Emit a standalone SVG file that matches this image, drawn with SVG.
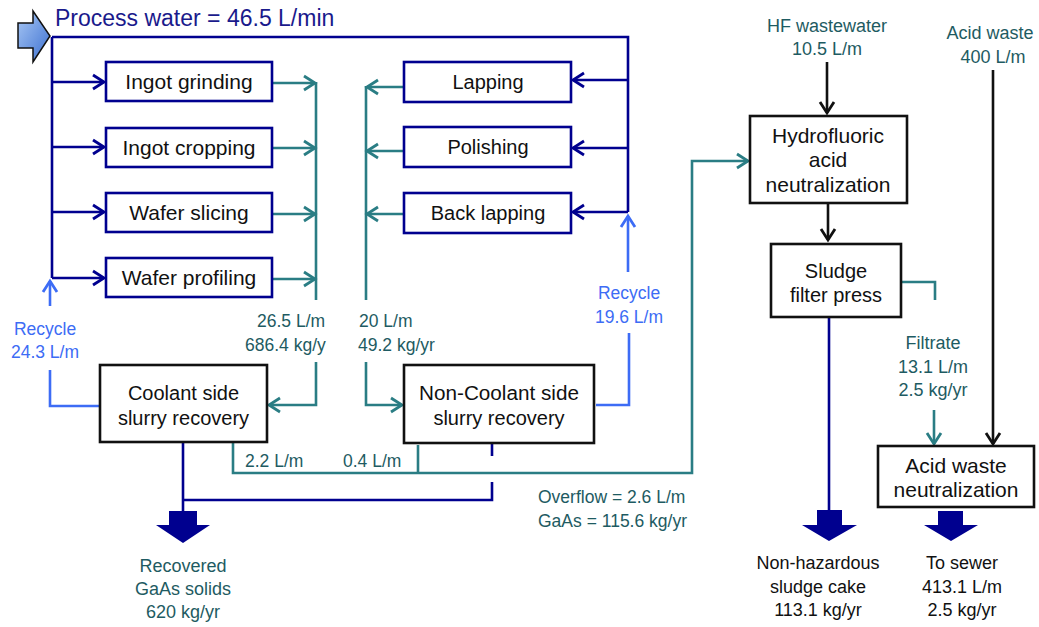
<svg xmlns="http://www.w3.org/2000/svg" width="1039" height="627" viewBox="0 0 1039 627">
<style>
text{font-family:"Liberation Sans",Arial,sans-serif}
.bt{font-size:20px;fill:#111;text-anchor:middle}
.bt2{font-size:21px;fill:#111;text-anchor:middle}
.lb{font-size:17.5px;fill:#1e5b62}
.lbc{font-size:18px;fill:#1e5b62;text-anchor:middle}
.lbb{font-size:17.5px;fill:#3d6cf5;text-anchor:middle}
.lbk{font-size:18px;fill:#111;text-anchor:middle}
.bn{fill:#fff;stroke:#00008f;stroke-width:2.6}
.bk{fill:#fff;stroke:#111;stroke-width:2.6}
.navy{fill:none;stroke:#00008f;stroke-width:2.6}
.teal{fill:none;stroke:#2a7d84;stroke-width:2.6}
.blue{fill:none;stroke:#3d6cf5;stroke-width:2.6}
.blk{fill:none;stroke:#111;stroke-width:2.6}
.big{fill:#00008f}
</style>
<defs>
<linearGradient id="g1" x1="0" y1="0" x2="1" y2="1">
<stop offset="0" stop-color="#a9c8f5"/><stop offset="1" stop-color="#3b6fd0"/>
</linearGradient>
<marker id="an" markerUnits="userSpaceOnUse" markerWidth="18" markerHeight="20" viewBox="-15 -10 18 20" refX="0" refY="0" orient="auto"><path d="M-11,-7 L0,0 L-11,7" fill="none" stroke="#00008f" stroke-width="2.8"/></marker>
<marker id="at" markerUnits="userSpaceOnUse" markerWidth="18" markerHeight="20" viewBox="-15 -10 18 20" refX="0" refY="0" orient="auto"><path d="M-11,-7 L0,0 L-11,7" fill="none" stroke="#2a7d84" stroke-width="2.8"/></marker>
<marker id="ab" markerUnits="userSpaceOnUse" markerWidth="18" markerHeight="20" viewBox="-15 -10 18 20" refX="0" refY="0" orient="auto"><path d="M-11,-7 L0,0 L-11,7" fill="none" stroke="#3d6cf5" stroke-width="2.8"/></marker>
<marker id="ak" markerUnits="userSpaceOnUse" markerWidth="18" markerHeight="20" viewBox="-15 -10 18 20" refX="0" refY="0" orient="auto"><path d="M-11,-7 L0,0 L-11,7" fill="none" stroke="#111" stroke-width="2.8"/></marker>
</defs>

<g id="process-water">
<polygon points="18,23 33,23 33,11 50,36 33,62 33,48 18,48" fill="url(#g1)" stroke="#111" stroke-width="1.5"/>
<text x="55" y="26" style="font-size:23px;fill:#1a1a8c">Process water = 46.5 L/min</text>
</g>

<g id="connectors">
<path class="navy" d="M52,37 H628 V212"/>
<path class="navy" d="M52,37 V278"/>
<path class="navy" d="M52,82 H104" marker-end="url(#an)"/>
<path class="navy" d="M52,147 H104" marker-end="url(#an)"/>
<path class="navy" d="M52,212 H104" marker-end="url(#an)"/>
<path class="navy" d="M52,278 H104" marker-end="url(#an)"/>
<path class="navy" d="M628,80 H573" marker-end="url(#an)"/>
<path class="navy" d="M628,148 H573" marker-end="url(#an)"/>
<path class="navy" d="M628,212 H573" marker-end="url(#an)"/>

<path class="teal" d="M272,83 H315" marker-end="url(#at)"/>
<path class="teal" d="M272,148 H315" marker-end="url(#at)"/>
<path class="teal" d="M272,214 H315" marker-end="url(#at)"/>
<path class="teal" d="M272,279 H315" marker-end="url(#at)"/>
<path class="teal" d="M316,82 V300"/>
<path class="teal" d="M316,362 V405 H269" marker-end="url(#at)"/>

<path class="teal" d="M404,87 H367" marker-end="url(#at)"/>
<path class="teal" d="M404,151 H367" marker-end="url(#at)"/>
<path class="teal" d="M404,214 H367" marker-end="url(#at)"/>
<path class="teal" d="M366,86 V300"/>
<path class="teal" d="M366,362 V405 H402" marker-end="url(#at)"/>

<path class="blue" d="M50,306 V281" marker-end="url(#ab)"/>
<path class="blue" d="M50,370 V406 H99"/>
<path class="blue" d="M628,272 V216" marker-end="url(#ab)"/>
<path class="blue" d="M629,333 V405 H596"/>

<path class="teal" d="M233,443 V473 H692 V161 H748" marker-end="url(#at)"/>
<path class="teal" d="M418,445 V473"/>

<path class="navy" d="M183,443 V511"/>
<path class="navy" d="M183,500 H492 V482"/>
<path class="navy" d="M492,443 V456"/>

<path class="blk" d="M827,62 V113" marker-end="url(#ak)"/>
<path class="blk" d="M828,203 V240" marker-end="url(#ak)"/>
<path class="blk" d="M993,70 V444" marker-end="url(#ak)"/>
<path class="teal" d="M902,282 H935 V300"/>
<path class="teal" d="M934,410 V444" marker-end="url(#at)"/>
<path class="navy" d="M829,317 V511"/>

<polygon class="big" points="169,511 197,511 197,525 210,525 183,543 156,525 169,525"/>
<polygon class="big" points="817,510 842,510 842,525 857,525 829,541 802,525 817,525"/>
<polygon class="big" points="938,511 963,511 963,525 978,525 951,541 924,525 938,525"/>
</g>

<g id="labels">
<text class="lb" x="257" y="327">26.5 L/m</text>
<text class="lb" x="245" y="351">686.4 kg/y</text>
<text class="lb" x="359" y="327">20 L/m</text>
<text class="lb" x="358" y="351">49.2 kg/yr</text>
<text class="lbb" x="45" y="335">Recycle</text>
<text class="lbb" x="45" y="358">24.3 L/m</text>
<text class="lbb" x="629" y="299">Recycle</text>
<text class="lbb" x="629" y="323">19.6 L/m</text>
<text class="lb" x="245" y="467">2.2 L/m</text>
<text class="lb" x="343" y="467">0.4 L/m</text>
<text class="lb" x="538" y="503">Overflow = 2.6 L/m</text>
<text class="lb" x="538" y="527">GaAs = 115.6 kg/yr</text>
<text class="lbc" x="827" y="32">HF wastewater</text>
<text class="lbc" x="827" y="55">10.5 L/m</text>
<text class="lbc" x="990" y="39">Acid waste</text>
<text class="lbc" x="993" y="63">400 L/m</text>
<text class="lbc" x="933" y="349">Filtrate</text>
<text class="lbc" x="933" y="373">13.1 L/m</text>
<text class="lbc" x="933" y="396">2.5 kg/yr</text>
<text class="lbc" x="183" y="572">Recovered</text>
<text class="lbc" x="183" y="595">GaAs solids</text>
<text class="lbc" x="183" y="618">620 kg/yr</text>
<text class="lbk" x="818" y="569">Non-hazardous</text>
<text class="lbk" x="818" y="593">sludge cake</text>
<text class="lbk" x="818" y="616">113.1 kg/yr</text>
<text class="lbk" x="962" y="569">To sewer</text>
<text class="lbk" x="962" y="593">413.1 L/m</text>
<text class="lbk" x="962" y="616">2.5 kg/yr</text>
</g>

<g id="ingot-grinding"><rect class="bn" x="106" y="62" width="166" height="39"/><text class="bt2" x="189" y="89">Ingot grinding</text></g>
<g id="ingot-cropping"><rect class="bn" x="106" y="128" width="166" height="39"/><text class="bt2" x="189" y="155">Ingot cropping</text></g>
<g id="wafer-slicing"><rect class="bn" x="106" y="193" width="166" height="39"/><text class="bt2" x="189" y="220">Wafer slicing</text></g>
<g id="wafer-profiling"><rect class="bn" x="106" y="258" width="166" height="39"/><text class="bt2" x="189" y="285">Wafer profiling</text></g>
<g id="lapping"><rect class="bn" x="404" y="62" width="167" height="40"/><text class="bt" x="488" y="89">Lapping</text></g>
<g id="polishing"><rect class="bn" x="404" y="127" width="167" height="40"/><text class="bt" x="488" y="154">Polishing</text></g>
<g id="back-lapping"><rect class="bn" x="404" y="193" width="167" height="40"/><text class="bt" x="488" y="220">Back lapping</text></g>
<g id="coolant"><rect class="bk" x="100" y="365" width="167" height="77"/><text class="bt" x="183.5" y="400">Coolant side</text><text class="bt" x="183.5" y="425">slurry recovery</text></g>
<g id="non-coolant"><rect class="bk" x="404" y="365" width="190" height="78"/><text class="bt" x="499" y="400" textLength="160" lengthAdjust="spacingAndGlyphs">Non-Coolant side</text><text class="bt" x="499" y="425">slurry recovery</text></g>
<g id="hf-neutralization"><rect class="bk" x="750" y="116" width="157" height="87"/><text class="bt2" x="828" y="143">Hydrofluoric</text><text class="bt2" x="828" y="167">acid</text><text class="bt2" x="828" y="192">neutralization</text></g>
<g id="sludge-filter"><rect class="bk" x="771" y="244" width="130" height="73"/><text class="bt" x="836" y="278">Sludge</text><text class="bt" x="836" y="302">filter press</text></g>
<g id="acid-neutralization"><rect class="bk" x="878" y="446" width="156" height="61"/><text class="bt2" x="956" y="473">Acid waste</text><text class="bt2" x="956" y="497">neutralization</text></g>
</svg>
